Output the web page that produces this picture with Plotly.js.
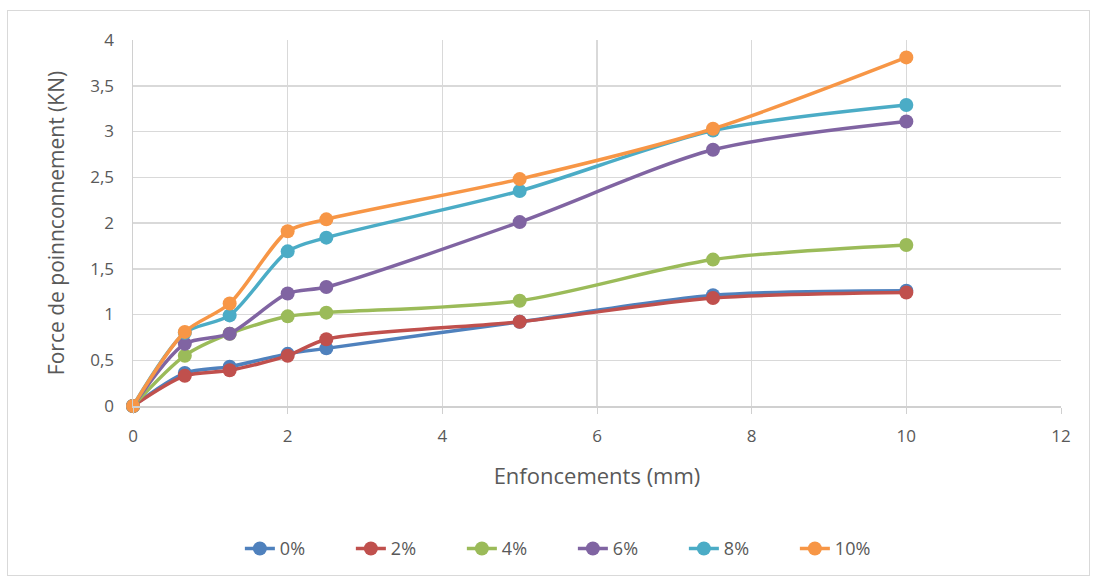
<!DOCTYPE html>
<html>
<head>
<meta charset="utf-8">
<script src="https://cdn.plot.ly/plotly-3.0.1.min.js"></script>
<style>
html,body{margin:0;padding:0;background:#fff;}
#wrap{position:relative;width:1097px;height:581px;}
#chart{width:1097px;height:581px;}
#frame{position:absolute;left:7px;top:10px;width:1083px;height:566px;border:1px solid #d9d9d9;pointer-events:none;box-sizing:border-box;}
</style>
</head>
<body>
<div id="wrap"><div id="chart"></div><div id="frame"></div></div>
<script>
var enfoncements = [0, 0.67, 1.25, 2, 2.5, 5, 7.5, 10];
var seriesNames = ['0%', '2%', '4%', '6%', '8%', '10%'];
var s0  = [0, 0.36, 0.43, 0.57, 0.63, 0.92, 1.21, 1.26];
var s2  = [0, 0.33, 0.39, 0.55, 0.73, 0.92, 1.18, 1.24];
var s4  = [0, 0.55, 0.79, 0.98, 1.02, 1.15, 1.60, 1.76];
var s6  = [0, 0.68, 0.79, 1.23, 1.30, 2.01, 2.80, 3.11];
var s8  = [0, 0.80, 0.99, 1.69, 1.84, 2.35, 3.01, 3.29];
var s10 = [0, 0.81, 1.12, 1.91, 2.04, 2.48, 3.03, 3.81];
var xTickVals = [0, 2, 4, 6, 8, 10, 12];
var yTickVals = [0, 0.5, 1, 1.5, 2, 2.5, 3, 3.5, 4];

var colors = ['#4F81BD', '#C0504D', '#9BBB59', '#8064A2', '#4BACC6', '#F79646'];
var allSeries = [s0, s2, s4, s6, s8, s10];

var traces = allSeries.map(function(ys, i){
  return {
    x: enfoncements, y: ys, name: seriesNames[i],
    type: 'scatter', mode: 'lines+markers',
    line: {color: colors[i], width: 3.5, shape: 'spline', smoothing: 0.8},
    marker: {color: colors[i], size: 14},
    cliponaxis: false
  };
});

var layout = {
  width: 1097, height: 581,
  margin: {l: 133, r: 36, t: 40, b: 175},
  paper_bgcolor: '#ffffff', plot_bgcolor: '#ffffff',
  separators: ', ',
  font: {family: 'Open Sans, Liberation Sans, sans-serif', color: '#595959', size: 17},
  xaxis: {
    range: [0, 12], tickvals: xTickVals, showgrid: true, gridcolor: '#d9d9d9', gridwidth: 1.5,
    zeroline: false, showline: true, linecolor: '#d0d0d0', linewidth: 1.5,
    ticks: 'outside', ticklen: 6, tickcolor: '#d0d0d0', tickfont: {size: 17, color: '#595959'},
    ticklabelstandoff: 8,
    title: {text: 'Enfoncements (mm)', font: {size: 22, color: '#595959'}, standoff: 22}
  },
  yaxis: {
    range: [0, 4], tickvals: yTickVals, showgrid: true, gridcolor: '#d9d9d9', gridwidth: 1.5,
    zeroline: false, showline: true, linecolor: '#d0d0d0', linewidth: 1.5,
    ticks: '', tickfont: {size: 17, color: '#595959'},
    ticklabelstandoff: 14,
    title: {text: 'Force de poinnconnement (KN)', font: {size: 21, color: '#595959'}, standoff: 20}
  },
  legend: {
    orientation: 'h', x: 0.474, xanchor: 'center', y: -0.39, yanchor: 'middle',
    font: {size: 18, color: '#595959'}, entrywidth: 66, entrywidthmode: 'pixels'
  },
  showlegend: true
};

Plotly.newPlot('chart', traces, layout, {displayModeBar: false, staticPlot: true});
</script>
</body>
</html>
